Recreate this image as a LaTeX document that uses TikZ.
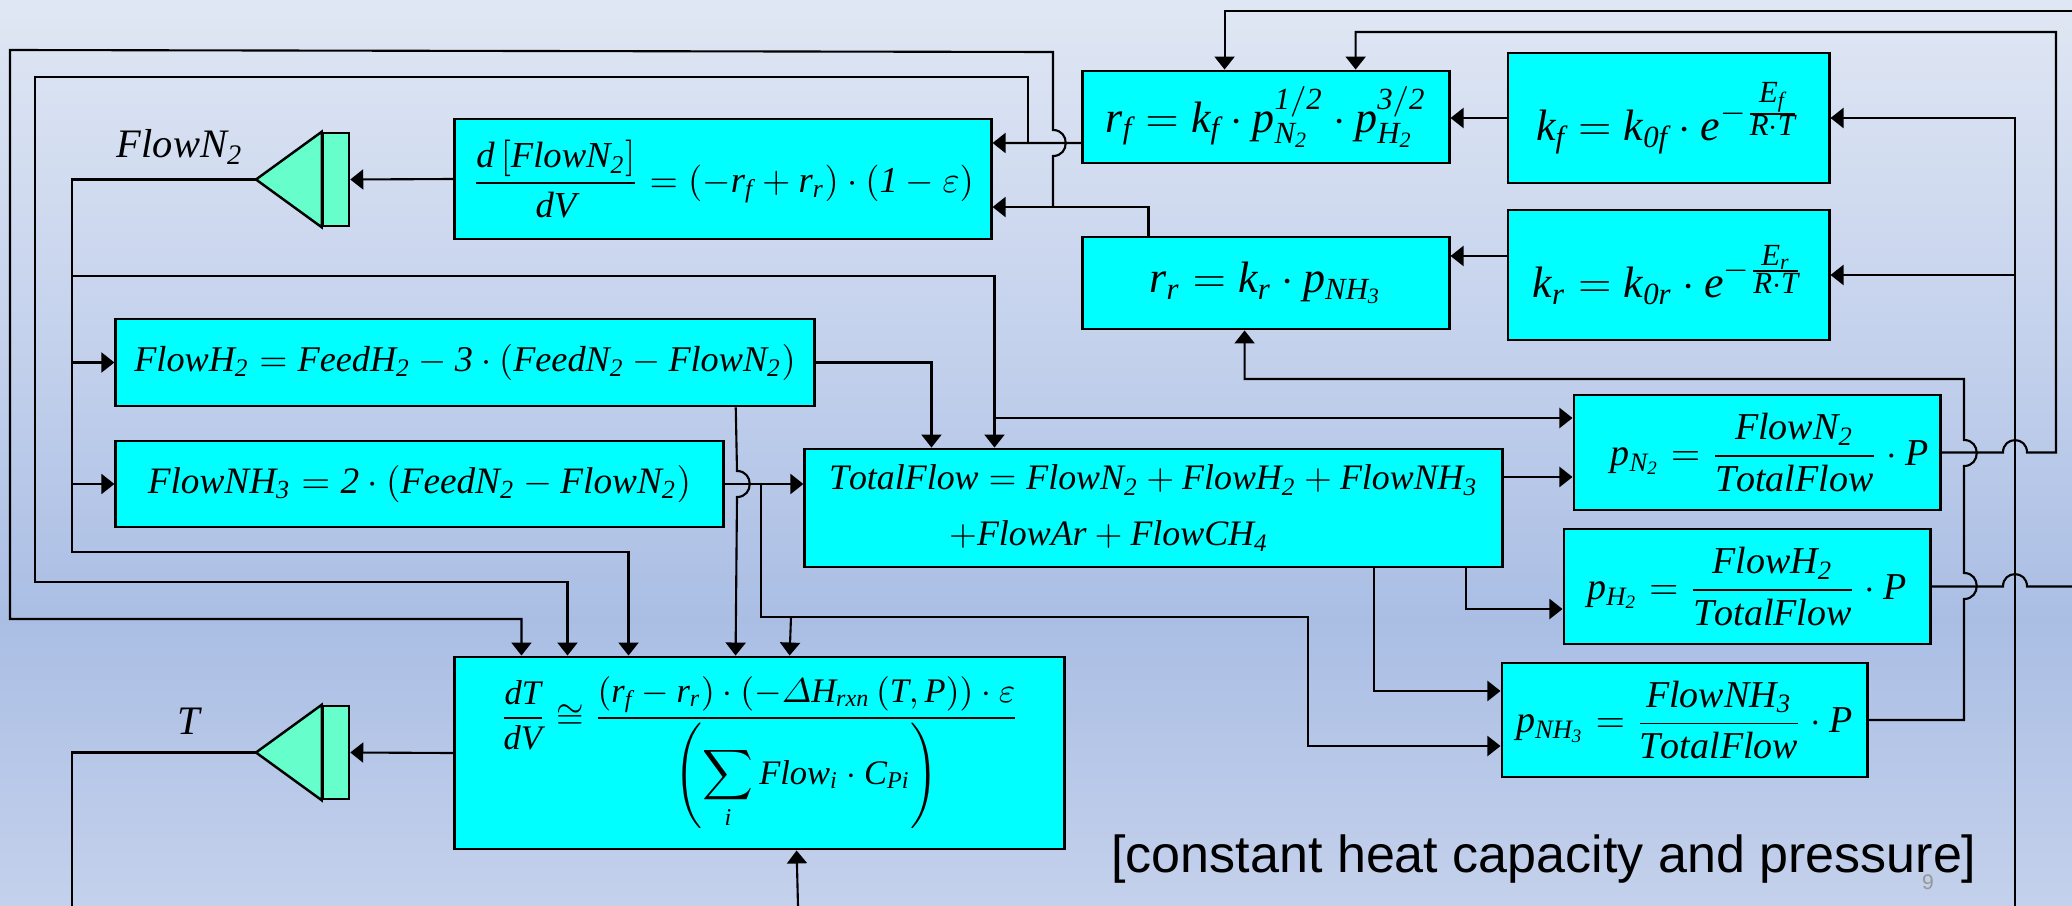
\RequirePackage{fix-cm}
\documentclass[tikz,border=0pt]{standalone}
\usepackage{amsmath}
\usepackage{fontspec}
\setmainfont{Liberation Serif}
\newfontfamily\capfont{Liberation Sans}
\usetikzlibrary{arrows.meta}
\definecolor{boxcyan}{RGB}{0,255,255}
\definecolor{integ}{RGB}{102,255,204}
\definecolor{pagegray}{RGB}{150,150,150}
\pgfdeclareverticalshading{slidebg}{100bp}{%
  rgb(0bp)=(0.77,0.82,0.925); rgb(25bp)=(0.77,0.82,0.925);
  rgb(40.8bp)=(0.667,0.745,0.894); rgb(58bp)=(0.78,0.83,0.93);
  rgb(75bp)=(0.878,0.906,0.957); rgb(100bp)=(0.878,0.906,0.957)}

\begin{document}
\begin{tikzpicture}[
  x=0.01cm, y=-0.01cm,
  eqbox/.style={rectangle, draw, line width=0.8pt, fill=boxcyan,
    inner sep=0pt, font=\fontsize{10.3}{13}\selectfont},
  ratebox/.style={eqbox, font=\fontsize{12.5}{15}\selectfont},
  pbox/.style={eqbox, font=\fontsize{10.8}{13}\selectfont},
  intbox/.style={rectangle, draw, line width=0.7pt, fill=integ,
    minimum width=0.26cm, minimum height=0.93cm, inner sep=0pt},
  intfill/.style={draw, line width=0.7pt, fill=integ},
  wire/.style={line width=0.6pt},
  arrow/.style={wire, -{Triangle[length=0.13cm, width=0.2cm]}}
]
% Slide background
\shade[shading=slidebg] (0,0) rectangle (2072,906);
\useasboundingbox (0,0) rectangle (2072,906);

% Balance equations
\node[eqbox, minimum width=5.36cm, minimum height=1.2cm,
      font=\fontsize{10.4}{13}\selectfont] (n2eq) at (723,179)
  {$\mathit{\dfrac{d\left[FlowN_2\right]}{dV}=\left(-r_f+r_r\right)\cdot\left(1-\varepsilon\right)}$};
\node[eqbox, minimum width=6.98cm, minimum height=0.87cm] (h2eq)
  at (465,362.5)
  {$\mathit{FlowH_2=FeedH_2-3\cdot\left(FeedN_2-FlowN_2\right)}$};
\node[eqbox, minimum width=6.07cm, minimum height=0.86cm,
      font=\fontsize{10.6}{13}\selectfont] (nh3eq) at (419.5,484)
  {$\mathit{FlowNH_3=2\cdot\left(FeedN_2-FlowN_2\right)}$};
\node[eqbox, minimum width=6.97cm, minimum height=1.18cm, align=left,
      font=\fontsize{10.2}{16}\selectfont] (tot) at (1153.5,508)
  {$\mathit{TotalFlow=FlowN_2+FlowH_2+FlowNH_3}$\\
   \hspace*{1.2cm}$\mathit{+FlowAr+FlowCH_4}$};
\node[eqbox, minimum width=6.09cm, minimum height=1.92cm,
      font=\fontsize{9.8}{12}\selectfont] (dT) at (759.5,753)
  {$\mathit{\dfrac{dT}{dV}\cong\dfrac{\left(r_f-r_r\right)\cdot\left(-\varDelta H_{rxn}\left(T,P\right)\right)\cdot\varepsilon}{\left(\displaystyle\sum_i Flow_i\cdot C_{Pi}\right)}}$};

% Rate equations
\node[ratebox, minimum width=3.66cm, minimum height=0.92cm] (rf)
  at (1266,117) {$\mathit{r_f=k_f\cdot p_{N_2}^{1/2}\cdot p_{H_2}^{3/2}}$};
\node[ratebox, minimum width=3.21cm, minimum height=1.3cm] (kf)
  at (1668.5,118)
  {$\mathit{k_f=k_{0f}\cdot e^{-\frac{\scriptstyle E_f}{\scriptstyle R\cdot T}}}$};
\node[ratebox, minimum width=3.66cm, minimum height=0.92cm] (rr)
  at (1266,283) {$\mathit{r_r=k_r\cdot p_{NH_3}}$};
\node[ratebox, minimum width=3.21cm, minimum height=1.3cm] (kr)
  at (1668.5,275)
  {$\mathit{k_r=k_{0r}\cdot e^{-\frac{\scriptstyle E_r}{\scriptstyle R\cdot T}}}$};

% Partial pressures
\node[pbox, minimum width=3.66cm, minimum height=1.15cm] (pN2)
  at (1757,452.5)
  {\hspace*{0.25cm}$\mathit{p_{N_2}=\dfrac{FlowN_2}{TotalFlow}\cdot P}$};
\node[pbox, minimum width=3.66cm, minimum height=1.15cm] (pH2)
  at (1747,586.5) {$\mathit{p_{H_2}=\dfrac{FlowH_2}{TotalFlow}\cdot P}$};
\node[pbox, minimum width=3.65cm, minimum height=1.14cm] (pNH3)
  at (1684.5,720) {$\mathit{p_{NH_3}=\dfrac{FlowNH_3}{TotalFlow}\cdot P}$};

% Integrators
\node[intbox] (iN2) at (336,179.5) {};
\coordinate (tipN2) at (256,179.5);
\draw[intfill] (iN2.north west) -- (tipN2) -- (iN2.south west) -- cycle;
\node[font=\fontsize{11.5}{14}\selectfont] (lblN2) at (180,147)
  {$\mathit{FlowN_2}$};
\node[intbox] (iT) at (336,752.5) {};
\coordinate (tipT) at (256,752.5);
\draw[intfill] (iT.north west) -- (tipT) -- (iT.south west) -- cycle;
\node[font=\fontsize{11.5}{14}\selectfont] (lblT) at (189,721)
  {$\mathit{T}$};

\draw[arrow] (n2eq.west) -- (iN2.east);
\draw[arrow] (dT.west) -- (iT.east);

% Rates into the N2 balance
\draw[arrow] (kf.west) -- (kf.west -| rf.east);
\draw[arrow] ([yshift=0.19cm]kr.west) -- ([yshift=0.19cm]kr.west -| rr.east);
\draw[arrow] ([yshift=-0.26cm]rf.west) -- ([yshift=0.36cm]n2eq.east);
\draw[arrow] ([xshift=0.67cm]rr.north west) |- ([yshift=-0.28cm]n2eq.east);

% Rates into the energy balance
\coordinate (rrjoin) at (1053,207);
\coordinate (rfjoin) at (1028,143);
\draw[arrow] (rrjoin) -- (1053,156)
  .. controls (1070,156) and (1070,130) .. (1053,130)
  -- (1053,52) -- (10,50) -- (10,619) -| ([xshift=0.68cm]dT.north west);
\draw[arrow] (rfjoin) -- (1028,77) -- (35,77) -- (35,582)
  -| ([xshift=1.14cm]dT.north west);

% FlowN2 bus
\coordinate (n2bus) at (72,180);
\draw[arrow] (tipN2) -| (72,552) -| ([xshift=1.75cm]dT.north west);
\draw[arrow] (h2eq.west -| n2bus) -- (h2eq.west);
\draw[arrow] (nh3eq.west -| n2bus) -- (nh3eq.west);
\draw[arrow] (72,276) -| ([xshift=1.91cm]tot.north west);
\coordinate (totin) at (996,418);
\draw[arrow] (totin) -- (totin -| pN2.west);

% FlowH2 and FlowNH3
\draw[arrow] (h2eq.east) -| ([xshift=1.28cm]tot.north west);
\draw[arrow] ([xshift=6.21cm]h2eq.south west) -- (737,471)
  .. controls (754,471) and (754,497) .. (737,497)
  -- ([xshift=2.82cm]dT.north west);
\draw[arrow] (nh3eq.east) -- (nh3eq.east -| tot.west);
\draw[arrow] (761,484) |- (1308,617) |- ([yshift=-0.26cm]pNH3.west);
\draw[arrow] (791,617) -- ([xshift=3.36cm]dT.north west);

% TotalFlow to partial pressures
\draw[arrow] ([yshift=0.31cm]tot.east) -- ([yshift=0.31cm]tot.east -| pN2.west);
\draw[arrow] ([xshift=6.62cm]tot.south west) |- ([yshift=-0.225cm]pH2.west);
\draw[arrow] ([xshift=5.7cm]tot.south west) |- ([yshift=0.29cm]pNH3.west);

% Partial pressures back to the rates
\draw[arrow] (pNH3.east) -| (1964,599)
  .. controls (1981,599) and (1981,573) .. (1964,573) -- (1964,466)
  .. controls (1981,466) and (1981,440) .. (1964,440)
  -- (1964,379) -| ([xshift=1.63cm]rr.south west);
\draw[arrow] (pN2.east) -- (2003,452.5)
  .. controls (2003,436) and (2027,436) .. (2027,452.5)
  -- (2056,452.5) -- (2056,32) -| ([xshift=2.74cm]rf.north west);
\draw[wire] (pH2.east) -- (2003,586.5)
  .. controls (2003,570) and (2027,570) .. (2027,586.5) -- (2072,586.5);
\draw[arrow] (2072,11) -| ([xshift=1.43cm]rf.north west);

% Temperature
\coordinate (tbus) at (2015,906);
\draw[wire] (tipT) -| (72,906);
\draw[arrow] (tbus) |- (kf.east);
\draw[arrow] (kr.east -| tbus) -- (kr.east);
\draw[arrow] (798,906) -- ([xshift=3.43cm]dT.south west);

% Note
\node[font=\capfont\fontsize{14.8}{17}\selectfont, anchor=base] (note)
  at (1544,872) {[constant heat capacity and pressure]};
\node[font=\capfont\fontsize{6}{7}\selectfont, text=pagegray] (pgnum)
  at (1928,882) {9};
\end{tikzpicture}
\end{document}
